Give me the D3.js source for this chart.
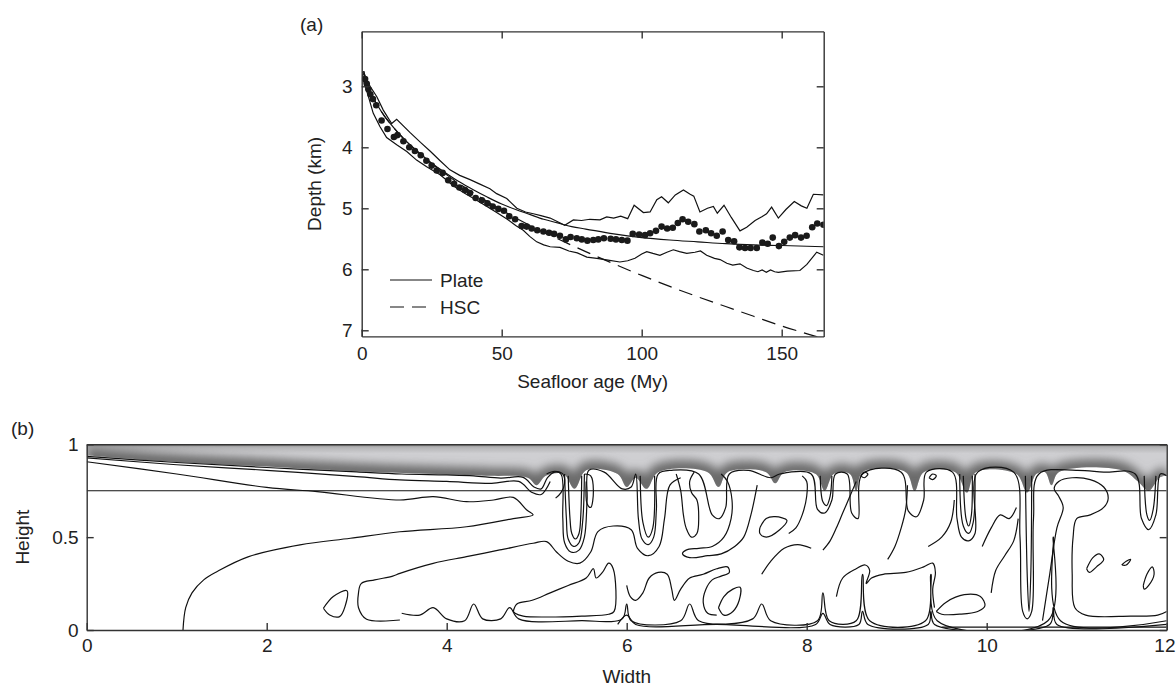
<!DOCTYPE html>
<html>
<head>
<meta charset="utf-8">
<script src="https://cdn.jsdelivr.net/npm/d3@7/dist/d3.min.js"></script>
<style>
body { margin: 0; background: #ffffff; }
svg text { font-family: "Liberation Sans", Arial, Helvetica, sans-serif; fill: #222; }
</style>
</head>
<body>
<div id="chart"></div>
<script>
// ---- panel (a): depth vs seafloor age ----
const ageTicks = [0, 50, 100, 150];
const depthTicks = [3, 4, 5, 6, 7];

const observedDepth = [
    [1.2, 2.88], [1.8, 2.96], [2.4, 3.05], [3.1, 3.13], [4.0, 3.21], [5.2, 3.31], [7.1, 3.56], [9.2, 3.70],
    [11.5, 3.83], [12.8, 3.80], [14.9, 3.90], [17.0, 4.00], [19.0, 4.06], [21.1, 4.13], [23.1, 4.22], [25.0, 4.30],
    [26.8, 4.38], [28.9, 4.42], [30.9, 4.54], [33.0, 4.60], [34.9, 4.66], [36.9, 4.70], [38.7, 4.75], [40.7, 4.83],
    [42.9, 4.87], [44.9, 4.92], [46.8, 4.97], [48.8, 5.01], [50.8, 5.04], [52.7, 5.13], [54.8, 5.18], [57.1, 5.29],
    [58.9, 5.30], [60.7, 5.33], [62.7, 5.36], [64.9, 5.38], [66.9, 5.40], [68.7, 5.42], [70.8, 5.45], [72.9, 5.51],
    [74.6, 5.47], [76.8, 5.49], [78.6, 5.51], [80.6, 5.53], [82.7, 5.52], [84.5, 5.51], [86.5, 5.49], [88.9, 5.50],
    [90.8, 5.51], [92.9, 5.52], [94.9, 5.53], [96.8, 5.42], [99.1, 5.43], [101.2, 5.44], [103.0, 5.41], [105.1, 5.37],
    [107.1, 5.30], [109.1, 5.33], [111.1, 5.32], [112.9, 5.24], [114.6, 5.18], [116.6, 5.22], [118.8, 5.26], [120.6, 5.38],
    [122.9, 5.36], [124.8, 5.41], [126.8, 5.45], [128.9, 5.38], [130.9, 5.52], [133.0, 5.54], [134.9, 5.64], [136.9, 5.65],
    [138.9, 5.65], [141.1, 5.65], [143.1, 5.56], [145.0, 5.58], [146.8, 5.48], [149.0, 5.62], [150.9, 5.55], [152.9, 5.48],
    [154.8, 5.44], [156.9, 5.48], [158.9, 5.45], [160.9, 5.31], [162.7, 5.25], [164.9, 5.27]
];

const upperBound = [
    [0.2, 2.76], [3.0, 3.00], [5.4, 3.17], [7.7, 3.39], [10.7, 3.61], [12.5, 3.54], [17.3, 3.76], [21.0, 3.92],
    [24.4, 4.06], [28.0, 4.22], [31.5, 4.37], [35.0, 4.46], [38.7, 4.53], [42.0, 4.60], [45.8, 4.68], [48.2, 4.76],
    [51.8, 4.84], [55.4, 5.00], [58.5, 5.06], [61.3, 5.09], [64.0, 5.12], [67.3, 5.16], [70.0, 5.22], [72.5, 5.28],
    [75.6, 5.19], [78.5, 5.20], [81.5, 5.18], [85.1, 5.19], [87.5, 5.14], [90.0, 5.16], [92.5, 5.13], [95.0, 5.17],
    [97.3, 4.95], [100.6, 5.07], [103.0, 5.06], [105.4, 4.86], [107.1, 4.81], [109.5, 4.91], [112.0, 4.78], [114.9, 4.70],
    [117.3, 4.77], [118.6, 4.80], [120.8, 5.06], [123.5, 5.00], [125.6, 4.97], [127.0, 5.08], [129.4, 4.95], [132.0, 5.15],
    [135.1, 5.37], [137.5, 5.31], [140.5, 5.20], [142.9, 5.14], [144.6, 5.09], [146.4, 4.98], [148.8, 5.16], [151.5, 5.02],
    [154.5, 4.89], [157.0, 4.96], [159.0, 5.00], [161.3, 4.77], [164.9, 4.78]
];

const lowerBound = [
    [0.3, 2.80], [0.6, 2.90], [2.4, 3.17], [4.1, 3.44], [6.5, 3.66], [8.9, 3.84], [12.5, 3.96], [16.1, 4.07],
    [19.6, 4.21], [23.2, 4.32], [28.0, 4.45], [32.7, 4.63], [36.3, 4.74], [40.0, 4.84], [44.0, 4.95], [48.2, 5.07],
    [52.0, 5.18], [55.0, 5.28], [57.7, 5.36], [60.0, 5.46], [62.5, 5.55], [65.0, 5.60], [67.3, 5.63], [70.8, 5.64],
    [74.0, 5.70], [77.0, 5.73], [80.4, 5.80], [84.0, 5.82], [88.0, 5.85], [92.2, 5.88], [95.0, 5.86], [97.6, 5.82],
    [100.0, 5.75], [101.8, 5.71], [104.0, 5.74], [106.5, 5.77], [109.0, 5.72], [111.3, 5.68], [113.5, 5.71], [116.1, 5.74],
    [119.0, 5.72], [121.0, 5.70], [123.2, 5.77], [126.0, 5.82], [128.0, 5.84], [130.4, 5.90], [132.5, 5.93], [135.1, 5.91],
    [137.5, 5.98], [139.9, 6.02], [141.5, 6.04], [143.0, 6.01], [144.5, 6.05], [146.0, 6.01], [147.5, 6.04], [148.8, 6.05],
    [152.0, 6.03], [156.5, 6.02], [159.0, 5.92], [162.5, 5.72], [164.9, 5.77]
];

const plateModel = [
    [0.7, 2.75], [2, 2.96], [4, 3.18], [6, 3.34], [8, 3.48], [10, 3.60], [15, 3.86], [20, 4.07], [25, 4.26],
    [30, 4.42], [35, 4.57], [40, 4.70], [45, 4.82], [50, 4.93], [55, 5.02], [60, 5.10], [65, 5.18], [70, 5.24],
    [75, 5.30], [80, 5.34], [90, 5.42], [100, 5.48], [110, 5.52], [120, 5.55], [130, 5.58], [140, 5.60],
    [150, 5.61], [165, 5.63]
];

const hscModel = [
    [0.7, 2.75], [2, 2.96], [4, 3.18], [6, 3.34], [8, 3.48], [10, 3.60], [15, 3.86], [20, 4.08], [30, 4.44],
    [40, 4.75], [50, 5.03], [60, 5.28], [70, 5.50], [80, 5.71], [90, 5.91], [100, 6.10], [110, 6.28], [120, 6.45],
    [130, 6.61], [140, 6.77], [150, 6.93], [160, 7.07], [165, 7.14]
];

const legendItems = [{label: 'Plate', dash: null}, {label: 'HSC', dash: '14,8'}];

// ---- panel (b): convection snapshot ----
const widthTicks = [0, 2, 4, 6, 8, 10, 12];
const heightTicks = [0, 0.5, 1];
const heightLabels = ['0', '0.5', '1'];
const layerLine = 0.75;

const lidBoundary = [
    [0, 0.94], [1, 0.905], [2, 0.88], [3, 0.855], [4, 0.838], [4.5, 0.83], [4.9, 0.82], [5.0, 0.78], [5.1, 0.83],
    [5.3, 0.84], [5.42, 0.76], [5.55, 0.86], [5.9, 0.84], [6.0, 0.77], [6.1, 0.82], [6.22, 0.76], [6.35, 0.85],
    [6.9, 0.85], [7.02, 0.77], [7.12, 0.85], [7.55, 0.85], [7.65, 0.79], [7.75, 0.85], [8.1, 0.84], [8.2, 0.75],
    [8.3, 0.84], [8.48, 0.84], [8.55, 0.75], [8.62, 0.85], [9.1, 0.85], [9.2, 0.75], [9.3, 0.85], [9.65, 0.85],
    [9.78, 0.74], [9.88, 0.85], [10.33, 0.84], [10.45, 0.74], [10.55, 0.84], [10.65, 0.85], [10.72, 0.78],
    [10.8, 0.85], [11.5, 0.86], [11.68, 0.8], [11.8, 0.75], [11.92, 0.82], [12, 0.83]
];

const topIsotherm = [
    [0, 0.935], [1, 0.902], [2, 0.875], [3, 0.851], [3.5, 0.84], [4, 0.835], [4.3, 0.83], [4.6, 0.818], [4.85, 0.822],
    [4.97, 0.77], [5.05, 0.76], [5.12, 0.82], [5.2, 0.85], [5.27, 0.84], [5.29, 0.6], [5.31, 0.47], [5.38, 0.42],
    [5.47, 0.43], [5.53, 0.5], [5.56, 0.7], [5.58, 0.86], [5.75, 0.85], [5.95, 0.76], [6.05, 0.77], [6.1, 0.84],
    [6.13, 0.6], [6.17, 0.49], [6.24, 0.46], [6.3, 0.5], [6.33, 0.65], [6.35, 0.84], [6.5, 0.86], [6.8, 0.84],
    [6.95, 0.62], [7.03, 0.6], [7.1, 0.66], [7.14, 0.84], [7.35, 0.86], [7.6, 0.82], [7.7, 0.84], [8.05, 0.84],
    [8.12, 0.65], [8.2, 0.63], [8.28, 0.7], [8.32, 0.84], [8.45, 0.84], [8.5, 0.63], [8.57, 0.6], [8.62, 0.84],
    [9.05, 0.85], [9.13, 0.64], [9.22, 0.61], [9.3, 0.7], [9.33, 0.85], [9.62, 0.85], [9.67, 0.6], [9.72, 0.5],
    [9.8, 0.48], [9.87, 0.52], [9.9, 0.85], [10.3, 0.85], [10.37, 0.5], [10.4, 0.1], [10.45, 0.06], [10.5, 0.1],
    [10.52, 0.6], [10.58, 0.84], [11.0, 0.86], [11.3, 0.85], [11.65, 0.84], [11.72, 0.6], [11.8, 0.54],
    [11.88, 0.62], [11.93, 0.84], [12, 0.83]
];

const secondIsotherm = [
    [0, 0.927], [1, 0.89], [2, 0.86], [3, 0.826], [3.48, 0.808], [4, 0.8], [4.5, 0.79], [4.8, 0.8], [4.95, 0.74],
    [5.05, 0.73], [5.15, 0.8]
];

const plumeNested = [
    [[5.31, 0.84], [5.33, 0.6], [5.35, 0.49], [5.41, 0.45], [5.47, 0.47], [5.51, 0.58], [5.53, 0.84]],
    [[5.35, 0.83], [5.37, 0.6], [5.39, 0.52], [5.43, 0.49], [5.47, 0.52], [5.49, 0.62], [5.5, 0.83]],
    [[6.15, 0.83], [6.18, 0.58], [6.24, 0.5], [6.29, 0.55], [6.31, 0.83]],
    [[8.15, 0.83], [8.18, 0.69], [8.22, 0.67], [8.26, 0.72], [8.28, 0.83]],
    [[9.7, 0.84], [9.74, 0.56], [9.8, 0.52], [9.85, 0.58], [9.87, 0.84]],
    [[9.74, 0.83], [9.77, 0.6], [9.8, 0.56], [9.83, 0.62], [9.84, 0.83]],
    [[10.43, 0.83], [10.45, 0.3], [10.47, 0.1], [10.49, 0.3], [10.5, 0.83]],
    [[11.75, 0.83], [11.78, 0.62], [11.81, 0.59], [11.85, 0.65], [11.88, 0.83]],
    [[5.53, 0.84], [5.6, 0.83], [5.63, 0.75], [5.6, 0.66], [5.56, 0.68], [5.55, 0.8]],
    [[9.36, 0.82], [9.4, 0.84], [9.44, 0.83], [9.4, 0.81], [9.36, 0.82]],
    [[8.6, 0.83], [8.64, 0.85], [8.68, 0.84], [8.64, 0.82], [8.6, 0.83]]
];

const lobeContour = [
    [1.07, 0], [1.1, 0.12], [1.17, 0.2], [1.3, 0.27], [1.45, 0.315], [1.8, 0.395], [2.37, 0.458], [2.93, 0.494],
    [3.48, 0.529], [4.22, 0.556], [4.74, 0.6], [4.96, 0.62], [4.89, 0.646], [4.74, 0.714], [4.52, 0.7],
    [4.22, 0.691], [3.85, 0.718], [3.48, 0.7], [2.56, 0.745], [2, 0.768], [1, 0.84], [0, 0.906]
];

const midContour = [
    [3.48, 0.054], [3.11, 0.058], [3.02, 0.12], [3.02, 0.2], [3.05, 0.25], [3.2, 0.27], [3.4, 0.29],
    [3.48, 0.305], [3.85, 0.359], [4.22, 0.395], [4.59, 0.431], [4.96, 0.467], [5.11, 0.476], [5.22, 0.42],
    [5.35, 0.37], [5.48, 0.36], [5.6, 0.42], [5.68, 0.53], [5.85, 0.56], [6.05, 0.54], [6.12, 0.44],
    [6.24, 0.4], [6.36, 0.45], [6.42, 0.6], [6.48, 0.78], [6.6, 0.82]
];

const smallCell = [
    [2.63, 0.117], [2.74, 0.18], [2.89, 0.212], [2.87, 0.126], [2.81, 0.072], [2.7, 0.081], [2.63, 0.117]
];

const middleBlobs = [
    [[5.11, 0.84], [5.2, 0.855], [5.29, 0.84], [5.31, 0.79], [5.27, 0.74], [5.21, 0.71]],
    [[4.74, 0.1], [4.78, 0.14], [4.95, 0.16], [5.15, 0.2], [5.35, 0.24], [5.55, 0.28], [5.63, 0.33], [5.66, 0.28],
        [5.73, 0.31], [5.8, 0.36], [5.85, 0.33], [5.86, 0.1], [5.8, 0.085], [5.5, 0.075], [5.1, 0.07], [4.85, 0.075],
        [4.76, 0.09], [4.74, 0.1]],
    [[6.55, 0.84], [6.6, 0.75], [6.63, 0.62], [6.66, 0.55], [6.72, 0.5], [6.78, 0.52], [6.8, 0.6], [6.78, 0.7],
        [6.72, 0.74], [6.7, 0.8], [6.75, 0.85]],
    [[7.05, 0.84], [7.12, 0.8], [7.17, 0.7], [7.16, 0.6], [7.08, 0.5], [6.95, 0.45], [6.8, 0.44], [6.66, 0.43],
        [6.62, 0.41], [6.7, 0.39], [6.9, 0.4], [7.05, 0.41], [7.2, 0.45], [7.3, 0.5], [7.38, 0.62], [7.45, 0.78]],
    [[6.0, 0.24], [6.04, 0.18], [6.1, 0.16], [6.18, 0.2], [6.25, 0.28], [6.35, 0.31], [6.45, 0.3], [6.5, 0.22],
        [6.53, 0.16], [6.6, 0.22], [6.7, 0.28], [6.85, 0.3], [7.0, 0.33], [7.12, 0.34], [7.14, 0.31], [7.05, 0.29],
        [6.95, 0.27], [6.88, 0.22], [6.85, 0.15], [6.9, 0.09], [7.0, 0.08]],
    [[7.02, 0.12], [7.08, 0.18], [7.18, 0.22], [7.26, 0.23], [7.25, 0.16], [7.18, 0.1], [7.08, 0.08], [7.02, 0.12]],
    [[7.48, 0.55], [7.55, 0.6], [7.65, 0.61], [7.78, 0.59], [7.7, 0.54], [7.55, 0.5], [7.48, 0.52], [7.48, 0.55]],
    [[7.8, 0.52], [7.88, 0.55], [7.95, 0.62], [8.0, 0.72], [8.0, 0.8], [7.95, 0.83]],
    [[7.5, 0.3], [7.6, 0.37], [7.75, 0.44], [7.9, 0.46], [8.05, 0.44]],
    [[8.18, 0.43], [8.26, 0.48], [8.33, 0.55], [8.4, 0.63], [8.48, 0.72], [8.55, 0.8]],
    [[8.9, 0.38], [8.98, 0.45], [9.05, 0.55], [9.1, 0.65], [9.12, 0.78]],
    [[8.33, 0.18], [8.4, 0.28], [8.55, 0.33], [8.65, 0.35], [8.7, 0.32], [8.66, 0.25], [8.72, 0.28], [8.85, 0.3],
        [9.1, 0.31], [9.3, 0.34], [9.4, 0.36], [9.43, 0.31], [9.4, 0.22], [9.42, 0.12]],
    [[9.35, 0.45], [9.5, 0.5], [9.6, 0.58], [9.64, 0.7]],
    [[9.44, 0.1], [9.55, 0.15], [9.75, 0.19], [9.93, 0.18], [9.98, 0.13], [9.9, 0.1], [9.7, 0.085], [9.5, 0.085],
        [9.44, 0.1]],
    [[9.95, 0.45], [10.05, 0.55], [10.15, 0.62], [10.25, 0.6], [10.33, 0.66]],
    [[10.05, 0.2], [10.1, 0.32], [10.2, 0.4], [10.3, 0.48], [10.35, 0.6]],
    [[10.62, 0.05], [10.7, 0.3], [10.78, 0.55], [10.85, 0.66], [10.8, 0.72], [10.75, 0.76], [10.8, 0.8],
        [10.95, 0.82], [11.15, 0.81], [11.3, 0.77], [11.35, 0.71], [11.3, 0.66], [11.15, 0.62], [11.0, 0.6],
        [10.96, 0.5], [10.95, 0.3], [10.98, 0.12], [11.1, 0.08], [11.6, 0.075], [11.9, 0.08], [12, 0.1]],
    [[11.11, 0.33], [11.18, 0.39], [11.25, 0.41], [11.3, 0.38], [11.22, 0.34], [11.14, 0.31], [11.11, 0.33]],
    [[11.5, 0.35], [11.55, 0.37], [11.6, 0.38], [11.55, 0.35], [11.5, 0.35]],
    [[11.74, 0.24], [11.78, 0.3], [11.84, 0.34], [11.86, 0.3], [11.8, 0.24], [11.75, 0.22], [11.74, 0.24]]
];

const bottomLayers = [
    [[3.5, 0.09], [3.7, 0.08], [3.85, 0.12], [4.0, 0.06], [4.2, 0.05], [4.3, 0.14], [4.4, 0.06], [4.6, 0.06],
        [4.7, 0.12], [4.8, 0.06], [5.5, 0.05], [5.95, 0.06], [6.0, 0.14], [6.05, 0.05], [6.6, 0.05], [6.7, 0.14],
        [6.8, 0.05], [7.4, 0.06], [7.5, 0.14], [7.6, 0.05], [8.12, 0.05], [8.18, 0.2], [8.25, 0.05], [8.55, 0.05],
        [8.62, 0.3], [8.7, 0.05], [9.32, 0.05], [9.38, 0.3], [9.45, 0.05], [10.68, 0.05], [10.74, 0.5],
        [10.82, 0.05], [12, 0.05]],
    [[5.9, 0.03], [6.0, 0.08], [6.1, 0.03], [7.0, 0.03], [8.1, 0.03], [8.18, 0.09], [8.26, 0.03], [8.58, 0.03],
        [8.62, 0.1], [8.68, 0.03], [9.35, 0.03], [9.38, 0.1], [9.42, 0.03], [10.7, 0.03], [10.74, 0.12],
        [10.78, 0.03], [12, 0.03]],
    [[9.5, 0.015], [10.5, 0.015], [11, 0.015], [12, 0.015]]
];

const convectionContours = [topIsotherm, secondIsotherm, lobeContour, midContour, smallCell]
    .concat(plumeNested, middleBlobs, bottomLayers);

function main() {
    const svg = d3.select('#chart').append('svg')
        .attr('width', 1176)
        .attr('height', 686);

    drawSeafloorPanel(svg);
    drawConvectionPanel(svg);
}

function styleAxis(axisG) {
    axisG.selectAll('.domain').attr('stroke', '#333').attr('stroke-width', 1.4);
    axisG.selectAll('.tick line').attr('stroke', '#333').attr('stroke-width', 1.4);
    axisG.selectAll('text')
        .attr('fill', '#222')
        .style('font-family', '"Liberation Sans", Arial, sans-serif')
        .style('font-size', '19px');
}

function drawSeafloorPanel(svg) {
    const x = d3.scaleLinear().domain([0, 165]).range([361.7, 823.7]);
    const y = d3.scaleLinear().domain([2.1, 7.1]).range([31.4, 336.4]);

    const g = svg.append('g');

    g.append('clipPath').attr('id', 'clip-a')
        .append('rect')
        .attr('x', x(0)).attr('y', y(2.1))
        .attr('width', x(165) - x(0)).attr('height', y(7.1) - y(2.1));

    const plot = g.append('g').attr('clip-path', 'url(#clip-a)');

    const lineGen = d3.line()
        .x(d => x(d[0]))
        .y(d => y(d[1]));

    plot.append('path').datum(upperBound)
        .attr('d', lineGen).attr('fill', 'none').attr('stroke', '#111').attr('stroke-width', 1.2);
    plot.append('path').datum(lowerBound)
        .attr('d', lineGen).attr('fill', 'none').attr('stroke', '#111').attr('stroke-width', 1.2);

    const smoothGen = d3.line()
        .x(d => x(d[0]))
        .y(d => y(d[1]))
        .curve(d3.curveMonotoneX);

    plot.append('path').datum(hscModel)
        .attr('d', smoothGen).attr('fill', 'none').attr('stroke', '#111').attr('stroke-width', 1.2)
        .attr('stroke-dasharray', '14,8');
    plot.append('path').datum(plateModel)
        .attr('d', smoothGen).attr('fill', 'none').attr('stroke', '#111').attr('stroke-width', 1.2);

    plot.selectAll('.obs-dot')
        .data(observedDepth)
        .enter()
        .append('circle')
        .attr('class', 'obs-dot')
        .attr('cx', d => x(d[0]))
        .attr('cy', d => y(d[1]))
        .attr('r', 3.3)
        .attr('fill', '#1a1a1a');

    // axes, ticks pointing inward on all four sides
    const xAxisBottom = g.append('g').attr('transform', `translate(0,${y(7.1)})`)
        .call(d3.axisBottom(x).tickValues(ageTicks).tickSizeInner(-7).tickSizeOuter(0).tickPadding(10));
    const xAxisTop = g.append('g').attr('transform', `translate(0,${y(2.1)})`)
        .call(d3.axisTop(x).tickValues(ageTicks).tickSizeInner(-7).tickSizeOuter(0).tickFormat(''));
    const yAxisLeft = g.append('g').attr('transform', `translate(${x(0)},0)`)
        .call(d3.axisLeft(y).tickValues(depthTicks).tickSizeInner(-7).tickSizeOuter(0).tickPadding(9)
            .tickFormat(d3.format('d')));
    const yAxisRight = g.append('g').attr('transform', `translate(${x(165)},0)`)
        .call(d3.axisRight(y).tickValues(depthTicks).tickSizeInner(-7).tickSizeOuter(0).tickFormat(''));
    [xAxisBottom, xAxisTop, yAxisLeft, yAxisRight].forEach(styleAxis);

    g.append('text')
        .attr('x', (x(0) + x(165)) / 2)
        .attr('y', 388)
        .attr('text-anchor', 'middle')
        .style('font-size', '19px')
        .text('Seafloor age (My)');

    g.append('text')
        .attr('transform', `translate(321,${(y(2.1) + y(7.1)) / 2}) rotate(-90)`)
        .attr('text-anchor', 'middle')
        .style('font-size', '19px')
        .text('Depth (km)');

    g.append('text')
        .attr('x', 300)
        .attr('y', 31)
        .style('font-size', '19px')
        .text('(a)');

    // legend
    const legend = g.append('g').attr('transform', 'translate(390,280)');
    legendItems.forEach((item, i) => {
        legend.append('line')
            .attr('x1', 0).attr('x2', 42)
            .attr('y1', i * 27).attr('y2', i * 27)
            .attr('stroke', '#111').attr('stroke-width', 1.2)
            .attr('stroke-dasharray', item.dash);
        legend.append('text')
            .attr('x', 50).attr('y', i * 27 + 7)
            .style('font-size', '19px')
            .text(item.label);
    });
}

function drawConvectionPanel(svg) {
    const x = d3.scaleLinear().domain([0, 12]).range([86.7, 1166.7]);
    const y = d3.scaleLinear().domain([0, 1]).range([630, 444.3]);

    const g = svg.append('g');
    const defs = g.append('defs');

    const grad = defs.append('linearGradient')
        .attr('id', 'lid-grad')
        .attr('gradientUnits', 'userSpaceOnUse')
        .attr('x1', 0).attr('x2', 0)
        .attr('y1', y(1)).attr('y2', y(0.75));
    grad.append('stop').attr('offset', 0).attr('stop-color', '#8a8a8a');
    grad.append('stop').attr('offset', 0.07).attr('stop-color', '#b4b4b6');
    grad.append('stop').attr('offset', 0.2).attr('stop-color', '#cfcfd2');
    grad.append('stop').attr('offset', 1).attr('stop-color', '#cfcfd2');

    defs.append('filter').attr('id', 'lid-blur')
        .attr('x', '-5%').attr('y', '-50%').attr('width', '110%').attr('height', '200%')
        .append('feGaussianBlur').attr('stdDeviation', 5);

    const lidArea = d3.area()
        .x(d => x(d[0]))
        .y0(y(1))
        .y1(d => y(d[1]))
        .curve(d3.curveCatmullRom);

    defs.append('clipPath').attr('id', 'clip-lid')
        .append('path').datum(lidBoundary).attr('d', lidArea);
    defs.append('clipPath').attr('id', 'clip-b')
        .append('rect')
        .attr('x', x(0)).attr('y', y(1))
        .attr('width', x(12) - x(0)).attr('height', y(0) - y(1));

    g.append('path').datum(lidBoundary)
        .attr('d', lidArea)
        .attr('fill', 'url(#lid-grad)');

    const contourLine = d3.line()
        .x(d => x(d[0]))
        .y(d => y(d[1]))
        .curve(d3.curveCatmullRom);

    g.append('g').attr('clip-path', 'url(#clip-lid)')
        .append('path').datum(lidBoundary)
        .attr('d', contourLine)
        .attr('fill', 'none')
        .attr('stroke', '#6a6a6a')
        .attr('stroke-width', 16)
        .attr('filter', 'url(#lid-blur)');

    const plot = g.append('g').attr('clip-path', 'url(#clip-b)');

    plot.append('line')
        .attr('x1', x(0)).attr('x2', x(12))
        .attr('y1', y(layerLine)).attr('y2', y(layerLine))
        .attr('stroke', '#111').attr('stroke-width', 1.2);

    plot.selectAll('.contour')
        .data(convectionContours)
        .enter()
        .append('path')
        .attr('class', 'contour')
        .attr('d', contourLine)
        .attr('fill', 'none')
        .attr('stroke', '#111')
        .attr('stroke-width', 1.2);

    const xAxis = g.append('g').attr('transform', `translate(0,${y(0)})`)
        .call(d3.axisBottom(x).tickValues(widthTicks).tickSizeInner(-7).tickSizeOuter(0).tickPadding(9));
    const xAxisTop = g.append('g').attr('transform', `translate(0,${y(1)})`)
        .call(d3.axisTop(x).tickValues(widthTicks).tickSize(0).tickFormat(''));
    const yAxis = g.append('g').attr('transform', `translate(${x(0)},0)`)
        .call(d3.axisLeft(y).tickValues(heightTicks).tickSizeInner(-7).tickSizeOuter(0).tickPadding(8)
            .tickFormat((d, i) => heightLabels[i]));
    const yAxisRight = g.append('g').attr('transform', `translate(${x(12)},0)`)
        .call(d3.axisRight(y).tickValues(heightTicks).tickSizeInner(-7).tickSizeOuter(0).tickFormat(''));
    [xAxis, xAxisTop, yAxis, yAxisRight].forEach(styleAxis);

    // last width label sits against the page edge
    xAxis.selectAll('.tick text')
        .filter(d => d === 12)
        .attr('text-anchor', 'end')
        .attr('x', 1175 - x(12));

    g.append('text')
        .attr('x', (x(0) + x(12)) / 2)
        .attr('y', 683)
        .attr('text-anchor', 'middle')
        .style('font-size', '19px')
        .text('Width');

    g.append('text')
        .attr('transform', `translate(29,${(y(0) + y(1)) / 2}) rotate(-90)`)
        .attr('text-anchor', 'middle')
        .style('font-size', '19px')
        .text('Height');

    g.append('text')
        .attr('x', 11)
        .attr('y', 435)
        .style('font-size', '19px')
        .text('(b)');
}

main();
</script>
</body>
</html>
